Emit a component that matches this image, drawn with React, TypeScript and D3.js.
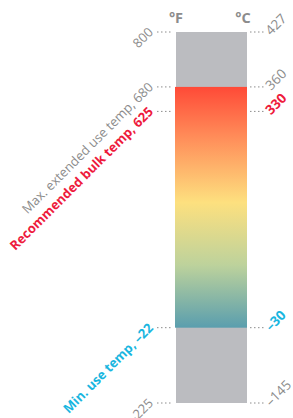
import React from "react";
import * as d3 from "d3";

// tick values, top to bottom
const fahrenheit = [800, 680, 625, -22, -225];
const celsius = [427, 360, 330, -30, -145];
const leftLabels = ["800", "Max. extended use temp, 680", "Recommended bulk temp, 625", "Min. use temp, \u201322", "\u2013225"];
const rightLabels = ["427", "360", "330", "\u201330", "\u2013145"];
const tickKind = ["plain", "plain", "hot", "cold", "plain"];
// the scale on the chart is not linear: relative position of each tick along the bar
const tickPos = [0, 0.148, 0.214, 0.797, 1];

const gradStops = [
  { offset: 0, color: "#ff4a37" },
  { offset: 0.2, color: "#ff8a58" },
  { offset: 0.48, color: "#fde07f" },
  { offset: 0.74, color: "#bdd29c" },
  { offset: 1, color: "#5a9eae" },
];

const W = 293;
const H = 418;
const barX = 176;
const barW = 71;
const top = 32;
const bottom = 403;

const colorOf: Record<string, string> = { plain: "#8c8c8c", hot: "#ee1b3c", cold: "#19b6e0" };

export default function App() {
  const y = d3
    .scaleLinear()
    .domain(fahrenheit)
    .range(tickPos.map((p) => top + p * (bottom - top)));

  const hotTop = y(fahrenheit[1]);
  const coldBottom = y(fahrenheit[3]);
  const font = "'Open Sans', 'DejaVu Sans', sans-serif";

  return (
    <svg width={W} height={H} style={{ position: "absolute", left: 0, top: 0 }}>
      <defs>
        <linearGradient id="temp" x1="0" y1="0" x2="0" y2="1">
          {gradStops.map((s) => (
            <stop key={s.offset} offset={s.offset} stopColor={s.color} />
          ))}
        </linearGradient>
      </defs>

      {/* headers */}
      <text x={barX} y={23} textAnchor="middle" fontFamily={font} fontSize={14.5} fontWeight={700} fill="#8c8c8c">°F</text>
      <text x={barX + barW - 4} y={23} textAnchor="middle" fontFamily={font} fontSize={14.5} fontWeight={700} fill="#8c8c8c">°C</text>

      {/* bar */}
      <rect x={barX} y={top} width={barW} height={bottom - top} fill="#bbbcc0" />
      <rect x={barX - 1} y={hotTop} width={barW + 1} height={coldBottom - hotTop} fill="url(#temp)" />

      {fahrenheit.map((f, i) => {
        const ty = y(f);
        const kind = tickKind[i];
        const bold = kind !== "plain";
        return (
          <g key={f}>
            <line x1={157} x2={173} y1={ty} y2={ty} stroke="#8c8c8c" strokeWidth={1} strokeDasharray="1.5,2.5" />
            <line x1={250} x2={266} y1={ty} y2={ty} stroke="#8c8c8c" strokeWidth={1} strokeDasharray="1.5,2.5" />
            <text
              transform={`translate(154,${ty + 1}) rotate(-45)`}
              textAnchor="end"
              fontFamily={font}
              fontSize={13}
              fontWeight={bold ? 700 : 400}
              fill={colorOf[kind]}
            >
              {leftLabels[i]}
            </text>
            <text
              transform={`translate(271,${ty + 4}) rotate(-45)`}
              textAnchor="start"
              fontFamily={font}
              fontSize={13.5}
              fontWeight={bold ? 700 : 400}
              fill={colorOf[kind]}
            >
              {rightLabels[i]}
            </text>
          </g>
        );
      })}
    </svg>
  );
}
